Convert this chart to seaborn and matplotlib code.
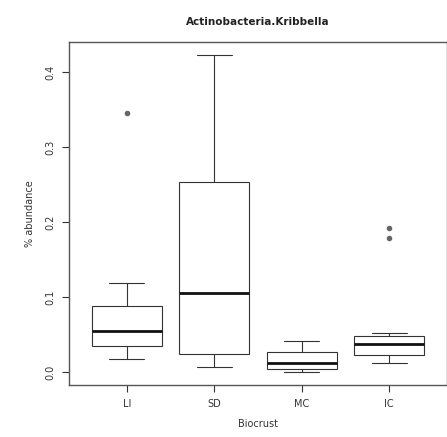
import numpy as np
import pandas as pd
import matplotlib
matplotlib.use("Agg")
import matplotlib.pyplot as plt
import seaborn as sns

# Relative abundance (%) of Actinobacteria.Kribbella per biocrust sample
groups = ["LI", "SD", "MC", "IC"]
li_values = [0.017, 0.028, 0.035, 0.046, 0.055, 0.070, 0.088, 0.119, 0.345]
sd_values = [0.007, 0.015, 0.024, 0.060, 0.105, 0.180, 0.253, 0.330, 0.423]
mc_values = [0.000, 0.002, 0.004, 0.008, 0.012, 0.020, 0.027, 0.035, 0.041]
ic_values = [0.012, 0.016, 0.020, 0.023, 0.028, 0.033, 0.037, 0.041,
             0.045, 0.048, 0.052, 0.179, 0.192]
y_ticks = [0.0, 0.1, 0.2, 0.3, 0.4]

df = pd.DataFrame({
    "Biocrust": (["LI"] * len(li_values) + ["SD"] * len(sd_values)
                 + ["MC"] * len(mc_values) + ["IC"] * len(ic_values)),
    "abundance": li_values + sd_values + mc_values + ic_values,
})

sns.set_style("white")
plt.rcParams["font.family"] = ["DejaVu Sans"]

fig = plt.figure(figsize=(4.47, 4.37), dpi=100)
ax = fig.add_axes([0.1544, 0.119, 0.8456, 0.785])

line_col = "#333333"
sns.boxplot(
    data=df, x="Biocrust", y="abundance", order=groups, ax=ax,
    color="white", linecolor=line_col, linewidth=0.8, width=0.8, whis=1.5,
    medianprops=dict(linewidth=2.0, color="#111111"),
    flierprops=dict(marker="o", markersize=3.0, markerfacecolor="#666666",
                    markeredgecolor="#666666"),
)

ax.set_xlim(-0.66, 3.66)
ax.set_ylim(-0.017, 0.44)
ax.set_yticks(y_ticks)
ax.set_yticklabels([f"{t:.1f}" for t in y_ticks], rotation=90, va="center",
                   fontsize=7, color="#333333")
ax.tick_params(axis="x", labelsize=7, labelcolor="#333333")
ax.tick_params(axis="both", direction="out", length=5, width=0.8,
               color=line_col, left=True, bottom=True, pad=5)

for sp in ax.spines.values():
    sp.set_visible(True)
    sp.set_color("#555555")
    sp.set_linewidth(1.0)

ax.set_xlabel("Biocrust", fontsize=7, color="#333333", labelpad=7)
ax.set_ylabel("% abundance", fontsize=7, color="#333333", labelpad=7)
ax.set_title("Actinobacteria.Kribbella", fontsize=7.5, fontweight="bold",
             color="#222222", pad=12)

fig.savefig("out.png", dpi=100, facecolor="white")
